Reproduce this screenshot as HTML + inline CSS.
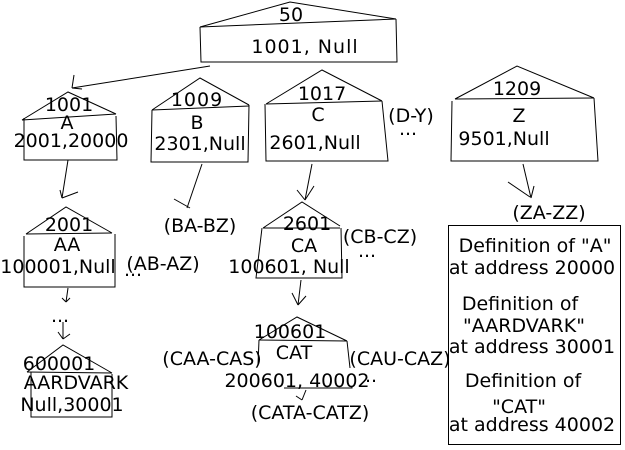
<!DOCTYPE html>
<html><head><meta charset="utf-8"><style>
html,body{margin:0;padding:0;background:#fff;width:625px;height:450px;overflow:hidden}
svg text{font-family:"DejaVu Sans","Liberation Sans",sans-serif;font-size:19px;fill:#000;text-anchor:middle}
</style></head><body>
<svg width="625" height="450" viewBox="0 0 625 450" xmlns="http://www.w3.org/2000/svg">
<g fill="none" stroke="#000" stroke-width="1">
<polyline points="200,27 290,2 396,19"/><line x1="200" y1="27" x2="396" y2="19"/>
<polyline points="200,27 201,62 397,62 396,19"/>
<line x1="210" y1="66" x2="72" y2="88"/><line x1="74" y1="75" x2="72" y2="88"/><line x1="72" y1="88" x2="82" y2="89"/>
<polyline points="22,120 68,92 116,114"/><line x1="22" y1="120" x2="116" y2="114"/>
<polyline points="24,118 24,160 117,160 116,116"/>
<line x1="68" y1="160" x2="62" y2="198"/><line x1="60" y1="190" x2="62" y2="198"/><line x1="62" y1="198" x2="78" y2="192"/>
<polyline points="152,110 200,78 249,105"/><line x1="152" y1="110" x2="249" y2="106"/>
<polyline points="152,110 151,162 248,162 249,105"/>
<line x1="202" y1="164" x2="187" y2="208"/><line x1="174" y1="199" x2="190" y2="208"/>
<polyline points="266,104 322,70 382,101"/><line x1="266" y1="104" x2="382" y2="101"/>
<polyline points="265,104 266,161 388,161 382,101"/>
<line x1="312" y1="164" x2="305" y2="200"/><line x1="297" y1="190" x2="305" y2="200"/><line x1="305" y1="200" x2="314" y2="186"/>
<polyline points="455,99 517,66 594,98"/><line x1="455" y1="99" x2="594" y2="98"/>
<polyline points="452,101 451,161 598,161 594,98"/>
<line x1="523" y1="164" x2="531" y2="198"/><line x1="508" y1="182" x2="530" y2="197"/><line x1="531" y1="198" x2="534" y2="186"/>
<rect x="448.5" y="225.5" width="172" height="219"/>
<polyline points="26,234 66,207 112,233"/><line x1="26" y1="234" x2="112" y2="233"/>
<polyline points="24,236 24,287 115,287 115,234"/>
<line x1="68" y1="288" x2="66" y2="302"/><line x1="62" y1="298" x2="66" y2="302"/><line x1="66" y1="302" x2="70" y2="298"/>
<line x1="63" y1="322" x2="63" y2="339"/><line x1="58" y1="332" x2="63" y2="339"/><line x1="63" y1="339" x2="70" y2="334"/>
<polyline points="27,372 63,345 112,373"/><line x1="27" y1="372" x2="112" y2="373"/>
<polyline points="31,372 31,417 112,417 112,374"/>
<polyline points="263,228 302,202 340,226"/><line x1="263" y1="228" x2="340" y2="228"/>
<polyline points="262,228 256,278 342,278 341,228"/>
<line x1="301" y1="280" x2="298" y2="305"/><line x1="292" y1="293" x2="298" y2="305"/><line x1="298" y1="305" x2="306" y2="296"/>
<polyline points="259,340 297,317 347,341"/><line x1="259" y1="340" x2="347" y2="341"/>
<polyline points="259,340 258,365"/><polyline points="347,341 350,368"/>
<polyline points="284,388 352,388 352,386"/>
<line x1="306" y1="390" x2="302" y2="400"/><line x1="296" y1="396" x2="302" y2="400"/>
</g>
<text x="291" y="21">50</text>
<text x="305" y="53" style="letter-spacing:1px">1001, Null</text>
<text x="69" y="111">1001</text>
<text x="67" y="129">A</text>
<text x="71" y="147">2001,20000</text>
<text x="197" y="106" style="letter-spacing:1px">1009</text>
<text x="197" y="129">B</text>
<text x="200" y="150">2301,Null</text>
<text x="322" y="100">1017</text>
<text x="318" y="121">C</text>
<text x="315" y="149">2601,Null</text>
<text x="411" y="122">(D-Y)</text>
<text x="408" y="135">...</text>
<text x="517" y="95">1209</text>
<text x="519" y="122">Z</text>
<text x="504" y="145">9501,Null</text>
<text x="549" y="219">(ZA-ZZ)</text>
<text x="535" y="252">Definition of "A"</text>
<text x="532" y="274">at address 20000</text>
<text x="520" y="310">Definition of</text>
<text x="524" y="332">"AARDVARK"</text>
<text x="532" y="353">at address 30001</text>
<text x="523" y="387">Definition of</text>
<text x="519" y="413">"CAT"</text>
<text x="532" y="431">at address 40002</text>
<text x="69" y="231">2001</text>
<text x="67" y="251">AA</text>
<text x="58" y="273">100001,Null</text>
<text x="163" y="270">(AB-AZ)</text>
<text x="133" y="276">...</text>
<text x="200" y="232">(BA-BZ)</text>
<text x="60" y="322">...</text>
<text x="59" y="370">600001</text>
<text x="76" y="389">AARDVARK</text>
<text x="72" y="411">Null,30001</text>
<text x="307" y="230">2601</text>
<text x="304" y="252">CA</text>
<text x="289" y="273">100601, Null</text>
<text x="380" y="243">(CB-CZ)</text>
<text x="367" y="257">...</text>
<text x="290" y="338">100601</text>
<text x="294" y="359">CAT</text>
<text x="212" y="365">(CAA-CAS)</text>
<text x="400" y="365">(CAU-CAZ)</text>
<text x="297" y="387">200601, 40002</text>
<text x="371" y="382">..</text>
<text x="310" y="419">(CATA-CATZ)</text>
</svg>
</body></html>
